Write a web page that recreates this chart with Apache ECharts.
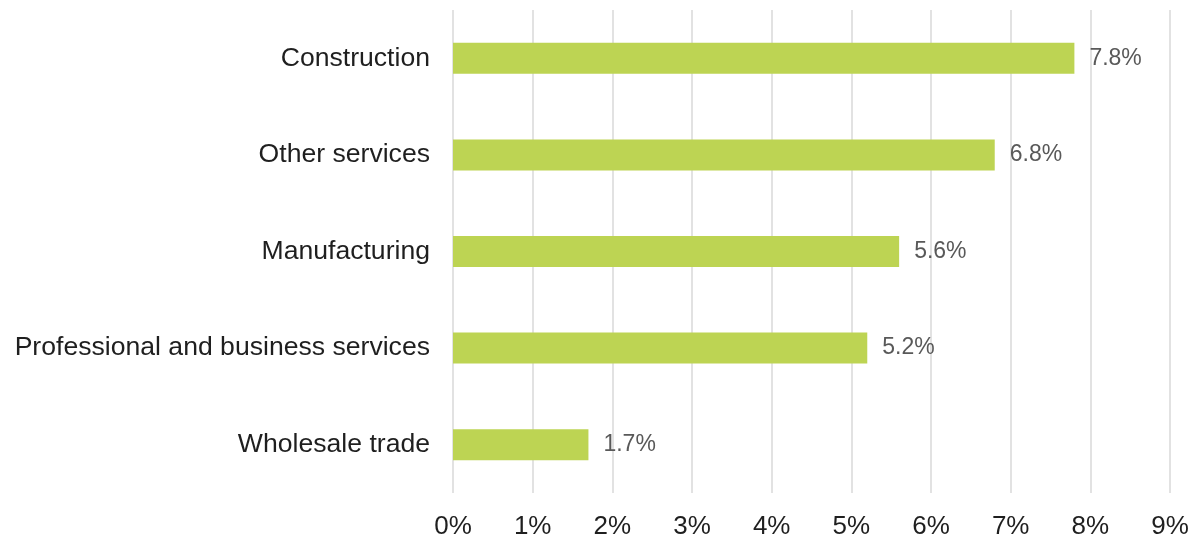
<!DOCTYPE html>
<html>
<head>
<meta charset="utf-8">
<script src="https://cdn.jsdelivr.net/npm/echarts@6/dist/echarts.min.js"></script>
<style>
	html, body { margin: 0; padding: 0; background: #fff; }
	#chart { width: 1192px; height: 537px; }
</style>
</head>
<body>
<div id="chart"></div>
<script>
	const categories = ['Wholesale trade', 'Professional and business services', 'Manufacturing', 'Other services', 'Construction'];
	const values = [1.7, 5.2, 5.6, 6.8, 7.8];

	const chart = echarts.init(document.getElementById('chart'));
	chart.setOption({
		animation: false,
		textStyle: { fontFamily: 'Liberation Sans, Arial, sans-serif' },
		grid: { left: 453, right: 22, top: 10, bottom: 44, outerBoundsMode: 'none' },
		xAxis: {
			type: 'value',
			min: 0,
			max: 9,
			interval: 1,
			axisLine: { show: false },
			axisTick: { show: false },
			axisLabel: { formatter: '{value}%', fontSize: 26, color: '#1f1f1f', margin: 21 },
			splitLine: { lineStyle: { color: '#e2e2e2', width: 2 } }
		},
		yAxis: {
			type: 'category',
			data: categories,
			axisLine: { show: false },
			axisTick: { show: false },
			axisLabel: { fontSize: 26.6, color: '#1f1f1f', margin: 23, padding: [6, 0, 0, 0] }
		},
		series: [{
			type: 'bar',
			data: values,
			barWidth: 31,
			itemStyle: { color: '#bdd453' },
			label: {
				show: true,
				position: 'right',
				distance: 15,
				padding: [7, 0, 0, 0],
				formatter: p => p.value.toFixed(1) + '%',
				fontSize: 23,
				color: '#595959'
			}
		}]
	});
</script>
</body>
</html>
